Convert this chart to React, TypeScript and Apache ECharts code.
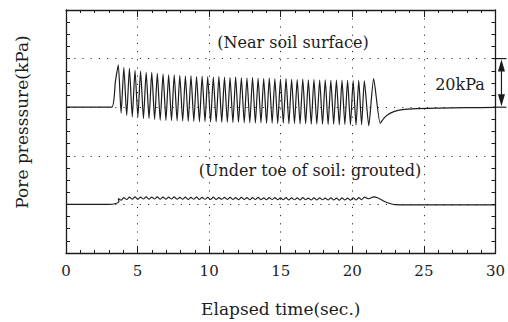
import React, { useEffect, useRef } from "react";
import * as echarts from "echarts";

// ---- data ----
const peakTimes = [3.65, 4.04, 4.43, 4.82, 5.21, 5.6, 5.99, 6.38, 6.78, 7.17, 7.56, 7.95, 8.34, 8.73, 9.12, 9.51, 9.9, 10.29, 10.68, 11.07, 11.46, 11.85, 12.25, 12.64, 13.03, 13.42, 13.81, 14.2, 14.59, 14.98, 15.37, 15.76, 16.15, 16.54, 16.93, 17.32, 17.72, 18.11, 18.5, 18.89, 19.28, 19.67, 20.06, 20.45, 20.84];
const troughTimes = [3.85, 4.24, 4.63, 5.02, 5.41, 5.8, 6.19, 6.58, 6.98, 7.37, 7.76, 8.15, 8.54, 8.93, 9.32, 9.71, 10.1, 10.49, 10.88, 11.27, 11.66, 12.05, 12.45, 12.84, 13.23, 13.62, 14.01, 14.4, 14.79, 15.18, 15.57, 15.96, 16.35, 16.74, 17.13, 17.52, 17.92, 18.31, 18.7, 19.09, 19.48, 19.87, 20.26, 20.65, 21.15];

// Near soil surface (kPa)
const nearLeadIn: [number, number][] = [[0, 60.0], [1.5, 60.0], [3.19, 60.0], [3.45, 70.5]];
const nearPeaks = [77.4, 76.3, 76.0, 75.2, 74.9, 74.3, 74.3, 73.9, 73.6, 73.3, 73.3, 73.0, 72.8, 72.9, 72.6, 72.7, 72.5, 72.4, 72.6, 72.3, 72.2, 72.4, 72.1, 72.0, 72.2, 71.9, 71.8, 72.0, 71.7, 71.6, 71.8, 71.5, 71.4, 71.6, 71.3, 71.4, 71.2, 71.3, 71.1, 71.2, 71.0, 71.1, 70.9, 71.0, 70.8];
const nearTroughs = [57.6, 56.6, 56.0, 56.0, 55.3, 55.3, 55.0, 54.6, 54.6, 54.5, 54.4, 54.3, 54.2, 54.2, 54.0, 54.1, 53.9, 53.9, 53.8, 53.8, 53.7, 53.8, 53.6, 53.6, 53.5, 53.6, 53.4, 53.4, 53.3, 53.4, 53.2, 53.3, 53.1, 53.2, 53.0, 53.1, 53.0, 52.9, 53.0, 52.8, 52.9, 52.8, 52.7, 52.8, 52.4];
const nearTail: [number, number][] = [[21.49, 71.8], [21.95, 53.4], [22.2, 55.4], [22.5, 57.0], [22.9, 58.2], [23.5, 59.0], [24.5, 59.4], [26, 59.6], [28, 59.8], [30, 59.9]];

// Under toe of soil: grouted (kPa)
const toeLeadIn: [number, number][] = [[0, 20.0], [2.0, 20.0], [3.0, 20.0], [3.42, 20.3], [3.7, 21.2]];
const toePeaks = [22.4, 22.8, 23.0, 23.1, 23.0, 23.1, 23.0, 23.1, 23.0, 23.0, 23.1, 22.9, 23.0, 22.9, 23.0, 22.9, 22.9, 23.0, 22.8, 22.9, 22.9, 22.8, 22.9, 22.8, 22.8, 22.9, 22.7, 22.8, 22.8, 22.7, 22.8, 22.7, 22.7, 22.8, 22.6, 22.7, 22.7, 22.6, 22.7, 22.6, 22.7, 22.6, 22.7, 22.8, 23.0];
const toeTroughs = [21.7, 22.0, 22.1, 22.1, 22.2, 22.1, 22.2, 22.1, 22.1, 22.2, 22.1, 22.1, 22.0, 22.1, 22.0, 22.1, 22.0, 22.0, 22.1, 22.0, 22.0, 21.9, 22.0, 21.9, 22.0, 21.9, 21.9, 22.0, 21.9, 21.9, 21.8, 21.9, 21.8, 21.9, 21.8, 21.8, 21.9, 21.8, 21.8, 21.7, 21.8, 21.7, 21.8, 21.9, 22.3];
const toeTail: [number, number][] = [[21.49, 23.1], [21.8, 22.6], [22.3, 21.1], [22.7, 20.3], [23.0, 19.9], [24, 19.8], [26, 19.8], [28, 19.8], [30, 19.8]];

function buildTrace(lead: [number, number][], peaks: number[], troughs: number[], tail: [number, number][]) {
  const out: [number, number][] = [...lead];
  for (let i = 0; i < peakTimes.length; i++) {
    out.push([peakTimes[i], peaks[i]]);
    out.push([troughTimes[i], troughs[i]]);
  }
  return out.concat(tail);
}

const SERIF = "'DejaVu Serif', 'Liberation Serif', serif";
const INK = "#1c1c1c";

export default function App() {
  const ref = useRef<HTMLDivElement>(null);
  useEffect(() => {
    if (!ref.current) return;
    const chart = echarts.init(ref.current, null, { renderer: "svg" });
    const tickStyle = { lineStyle: { color: INK, width: 1 } };
    const lineStyleAxis = { show: true, onZero: false, lineStyle: { color: INK, width: 1.3 } };
    const xBase = {
      type: "value" as const,
      min: 0,
      max: 30,
      interval: 5,
      axisLine: lineStyleAxis,
      axisTick: { show: true, inside: true, length: 7, ...tickStyle },
      minorTick: { show: true, splitNumber: 5, length: 3, ...tickStyle },
    };
    const yBase = {
      type: "value" as const,
      min: 0,
      max: 100,
      interval: 20,
      axisLine: lineStyleAxis,
      axisTick: { show: true, inside: true, length: 4, ...tickStyle },
      minorTick: { show: true, splitNumber: 4, length: 4, ...tickStyle },
      axisLabel: { show: false },
    };
    chart.setOption({
      animation: false,
      backgroundColor: "#ffffff",
      grid: { left: 66, right: 11, top: 10, bottom: 66 },
      xAxis: [
        {
          ...xBase,
          position: "bottom",
          axisLabel: { show: true, margin: 10, color: INK, fontFamily: SERIF, fontSize: 15 },
          splitLine: { show: true, lineStyle: { color: "#333", width: 1, type: [1.2, 7] } },
          name: "Elapsed time(sec.)",
          nameLocation: "middle",
          nameGap: 47,
          nameTextStyle: { color: INK, fontFamily: SERIF, fontSize: 17 },
        },
        { ...xBase, position: "top", axisLabel: { show: false }, splitLine: { show: false } },
      ],
      yAxis: [
        {
          ...yBase,
          position: "left",
          splitLine: { show: true, lineStyle: { color: "#333", width: 1, type: [1.2, 7] } },
        },
        { ...yBase, position: "right", splitLine: { show: false } },
      ],
      series: [
        {
          type: "line",
          data: buildTrace(nearLeadIn, nearPeaks, nearTroughs, nearTail),
          showSymbol: false,
          smooth: 0.2,
          lineStyle: { color: INK, width: 1.2 },
        },
        {
          type: "line",
          data: buildTrace(toeLeadIn, toePeaks, toeTroughs, toeTail),
          showSymbol: false,
          smooth: 0.2,
          lineStyle: { color: INK, width: 1.1 },
        },
      ],
    });

    const [ax, ay80] = chart.convertToPixel({ gridIndex: 0 }, [30, 80]) as number[];
    const [, ay60] = chart.convertToPixel({ gridIndex: 0 }, [30, 60]) as number[];
    const arrowX = ax + 6;
    chart.setOption({
      graphic: [
        {
          type: "text",
          x: 22,
          y: 122,
          rotation: Math.PI / 2,
          style: { text: "Pore presssure(kPa)", font: `17px ${SERIF}`, fill: INK, textAlign: "center", textVerticalAlign: "middle" },
        },
        {
          type: "text",
          x: 293,
          y: 42,
          style: { text: "(Near soil surface)", font: `16px ${SERIF}`, fill: INK, textAlign: "center", textVerticalAlign: "middle" },
        },
        {
          type: "text",
          x: 310,
          y: 170,
          style: { text: "(Under toe of soil: grouted)", font: `16px ${SERIF}`, fill: INK, textAlign: "center", textVerticalAlign: "middle" },
        },
        {
          type: "text",
          x: 460,
          y: 84,
          style: { text: "20kPa", font: `16px ${SERIF}`, fill: INK, textAlign: "center", textVerticalAlign: "middle" },
        },
        { type: "line", shape: { x1: ax - 2, y1: ay80, x2: ax + 11, y2: ay80 }, style: { stroke: INK, lineWidth: 1.2 } },
        { type: "line", shape: { x1: ax - 2, y1: ay60, x2: ax + 11, y2: ay60 }, style: { stroke: INK, lineWidth: 1.2 } },
        { type: "line", shape: { x1: arrowX, y1: ay80 + 4, x2: arrowX, y2: ay60 - 4 }, style: { stroke: INK, lineWidth: 1.2 } },
        { type: "polygon", shape: { points: [[arrowX, ay80 + 1], [arrowX - 3.5, ay80 + 13], [arrowX + 3.5, ay80 + 13]] }, style: { fill: INK } },
        { type: "polygon", shape: { points: [[arrowX, ay60 - 1], [arrowX - 3.5, ay60 - 13], [arrowX + 3.5, ay60 - 13]] }, style: { fill: INK } },
      ],
    });
    return () => chart.dispose();
  }, []);
  return <div ref={ref} style={{ position: "absolute", left: 0, top: 0, width: 508, height: 322 }} />;
}
